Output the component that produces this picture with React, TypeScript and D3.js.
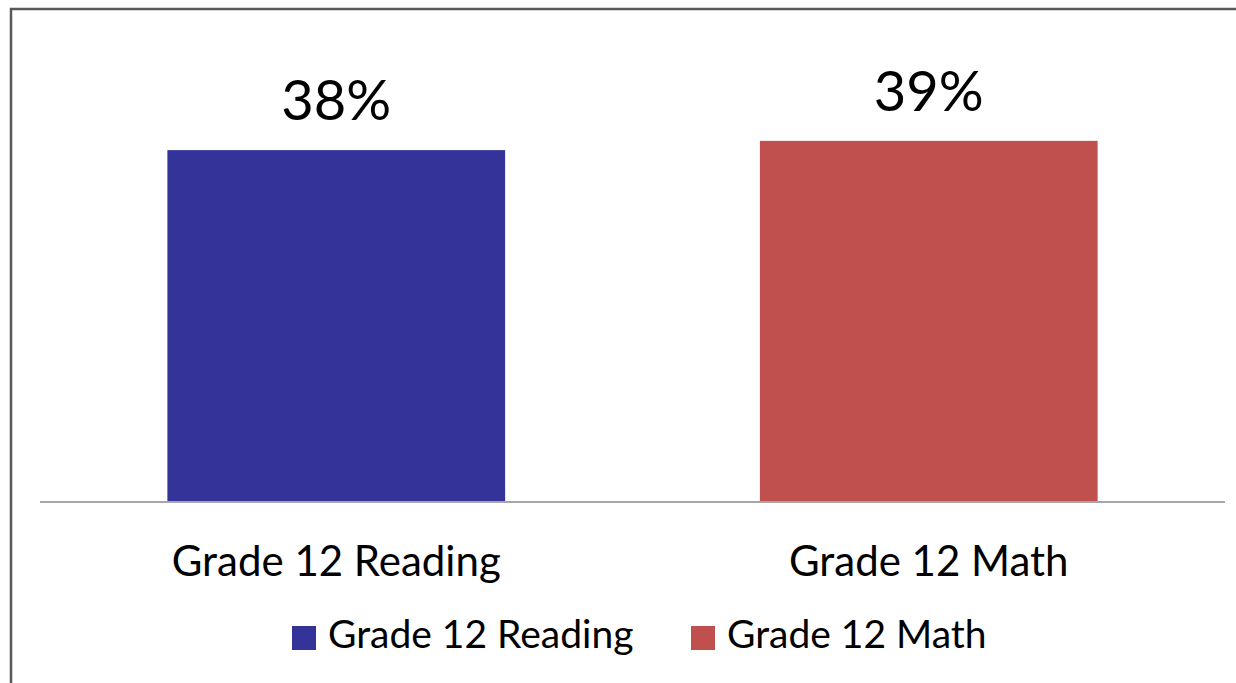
import React from "react";
import * as d3 from "d3";

const categories = ["Grade 12 Reading", "Grade 12 Math"];
const values = [38, 39];
const valueLabels = ["38%", "39%"];
const colors = ["#333399", "#C0504D"];
const yDomain = [0, 50];

const W = 1236;
const H = 683;
const FONT = "Lato, 'Open Sans', sans-serif";

export default function App() {
  const plotLeft = 40;
  const plotRight = 1225;
  const baseY = 502;
  const topY = 39;
  const x = d3.scaleBand<string>().domain(categories).range([plotLeft, plotRight]).paddingInner(0).paddingOuter(0);
  const y = d3.scaleLinear().domain(yDomain).range([baseY, topY]);
  const barW = x.bandwidth() * 0.57;

  return (
    <svg width={W} height={H} style={{ position: "absolute", left: 0, top: 0, background: "#fff" }} fontFamily={FONT}>
      <rect x={0} y={0} width={W} height={H} fill="#fff" />
      <rect x={11} y={9} width={W + 20} height={H + 20} fill="none" stroke="#595959" strokeWidth={2.5} />
      {categories.map((c, i) => {
        const cx = (x(c) as number) + x.bandwidth() / 2;
        return (
          <g key={c}>
            <rect x={cx - barW / 2} y={y(values[i])} width={barW} height={baseY - y(values[i])} fill={colors[i]} />
            <text x={cx} y={y(values[i]) - 30} textAnchor="middle" fontSize={56} fill="#000">{valueLabels[i]}</text>
            <text x={cx} y={576} textAnchor="middle" fontSize={42} fill="#000">{c}</text>
          </g>
        );
      })}
      <line x1={plotLeft} x2={plotRight} y1={baseY} y2={baseY} stroke="#A6A6A6" strokeWidth={2} />
      {categories.map((c, i) => {
        const lx = [292, 691][i];
        return (
          <g key={"lg" + c}>
            <rect x={lx} y={626} width={24} height={24} fill={colors[i]} />
            <text x={lx + 36} y={648} fontSize={39} fill="#000">{c}</text>
          </g>
        );
      })}
    </svg>
  );
}
